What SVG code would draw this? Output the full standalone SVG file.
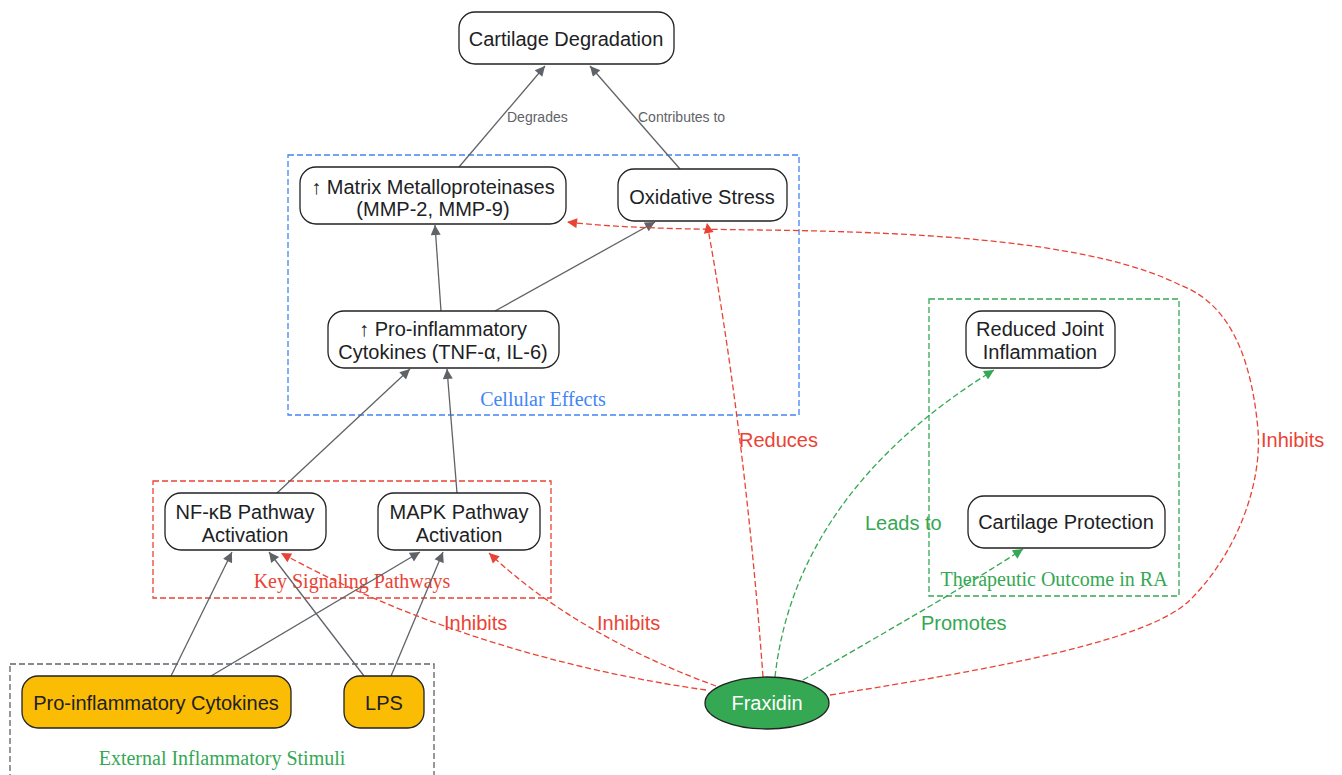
<svg xmlns="http://www.w3.org/2000/svg" width="1342" height="775" viewBox="0 0 1342 775">
<style>
.node rect{fill:#fff;stroke:#222;stroke-width:1.3}
.node text{font-family:"Liberation Sans",Arial,sans-serif;font-size:20px;fill:#202124;text-anchor:middle}
.stim rect{fill:#fbbc04;stroke:#222;stroke-width:1.3}
.clu{fill:none;stroke-width:1.3;stroke-dasharray:6,3}
.clabel{font-family:"Liberation Serif","Times New Roman",serif;font-size:20px;text-anchor:middle}
.e{fill:none;stroke:#5f6368;stroke-width:1.3}
.r{fill:none;stroke:#ea4335;stroke-width:1.3;stroke-dasharray:6,3}
.g{fill:none;stroke:#34a853;stroke-width:1.3;stroke-dasharray:6,3}
.lab{font-family:"Liberation Sans",Arial,sans-serif;font-size:20px}
.glab{font-family:"Liberation Sans",Arial,sans-serif;font-size:14px;fill:#5f6368}
</style>
<defs>
<marker id="ag" viewBox="0 0 10 10" refX="10" refY="5" markerUnits="userSpaceOnUse" markerWidth="13" markerHeight="10" orient="auto"><path d="M0,0 L10,5 L0,10 z" fill="#5f6368"/></marker>
<marker id="ar" viewBox="0 0 10 10" refX="10" refY="5" markerUnits="userSpaceOnUse" markerWidth="13" markerHeight="10" orient="auto"><path d="M0,0 L10,5 L0,10 z" fill="#ea4335"/></marker>
<marker id="agr" viewBox="0 0 10 10" refX="10" refY="5" markerUnits="userSpaceOnUse" markerWidth="13" markerHeight="10" orient="auto"><path d="M0,0 L10,5 L0,10 z" fill="#34a853"/></marker>
</defs>
<rect width="1342" height="775" fill="#fff"/>
<g id="clusters">
<g id="cluster-cellular"><rect class="clu" x="288" y="155" width="511" height="260" stroke="#4285f4"/><text class="clabel" x="543" y="406" fill="#4285f4">Cellular Effects</text></g>
<g id="cluster-signaling"><rect class="clu" x="153" y="481" width="398" height="117" stroke="#ea4335"/><text class="clabel" x="352" y="588" fill="#ea4335">Key Signaling Pathways</text></g>
<g id="cluster-stimuli"><rect class="clu" x="10" y="664" width="424" height="120" stroke="#5f6368"/><text class="clabel" x="222" y="765" fill="#34a853">External Inflammatory Stimuli</text></g>
<g id="cluster-outcome"><rect class="clu" x="929" y="299" width="250" height="297" stroke="#34a853"/><text class="clabel" x="1054" y="586" fill="#34a853">Therapeutic Outcome in RA</text></g>
</g>
<g id="connectors">
<path class="e" d="M459,167 L545,66" marker-end="url(#ag)"/>
<path class="e" d="M680,169 L590,66" marker-end="url(#ag)"/>
<path class="e" d="M441,311 L435,225" marker-end="url(#ag)"/>
<path class="e" d="M495,311 L655,222" marker-end="url(#ag)"/>
<path class="e" d="M277,493 L410,369" marker-end="url(#ag)"/>
<path class="e" d="M457,493 L447,369" marker-end="url(#ag)"/>
<path class="e" d="M171,676 L232,552" marker-end="url(#ag)"/>
<path class="e" d="M211,676 L420,552" marker-end="url(#ag)"/>
<path class="e" d="M364,676 L269,552" marker-end="url(#ag)"/>
<path class="e" d="M391,676 L443,552" marker-end="url(#ag)"/>
<path class="r" d="M706,690 C600,675 440,640 281,553" marker-end="url(#ar)"/>
<path class="r" d="M716,686 C650,662 560,620 489,553" marker-end="url(#ar)"/>
<path class="r" d="M763,677 C750,500 730,350 707,223" marker-end="url(#ar)"/>
<path class="r" d="M830,695 C1000,668 1150,640 1190,600 C1240,550 1262,480 1258,430 C1250,340 1220,300 1180,285 C1100,245 950,232 760,230 C680,229 620,228 567,222" marker-end="url(#ar)"/>
<path class="g" d="M775,677 C790,540 880,440 994,370" marker-end="url(#agr)"/>
<path class="g" d="M803,680 C880,635 960,590 1023,549" marker-end="url(#agr)"/>
<text class="glab" x="507" y="122">Degrades</text>
<text class="glab" x="638" y="122">Contributes to</text>
<text class="lab" x="739" y="447" fill="#ea4335">Reduces</text>
<text class="lab" x="444" y="630" fill="#ea4335">Inhibits</text>
<text class="lab" x="597" y="630" fill="#ea4335">Inhibits</text>
<text class="lab" x="1261" y="447" fill="#ea4335">Inhibits</text>
<text class="lab" x="865" y="530" fill="#34a853">Leads to</text>
<text class="lab" x="921" y="630" fill="#34a853">Promotes</text>
</g>
<g id="n-cartilage-degradation" class="node"><rect x="459" y="12" width="215" height="52" rx="16"/><text x="566" y="46">Cartilage Degradation</text></g>
<g id="n-mmp" class="node"><rect x="300" y="167" width="266" height="57" rx="16"/><text x="433" y="194">↑ Matrix Metalloproteinases</text><text x="433" y="216">(MMP-2, MMP-9)</text></g>
<g id="n-oxidative" class="node"><rect x="618" y="169" width="169" height="52" rx="16"/><text x="702" y="204">Oxidative Stress</text></g>
<g id="n-tnf" class="node"><rect x="328" y="311" width="231" height="57" rx="16"/><text x="443" y="336">↑ Pro-inflammatory</text><text x="443" y="359">Cytokines (TNF-α, IL-6)</text></g>
<g id="n-nfkb" class="node"><rect x="165" y="493" width="161" height="57" rx="16"/><text x="245" y="519">NF-κB Pathway</text><text x="245" y="542">Activation</text></g>
<g id="n-mapk" class="node"><rect x="378" y="493" width="162" height="57" rx="16"/><text x="459" y="519">MAPK Pathway</text><text x="459" y="542">Activation</text></g>
<g id="n-cytokines" class="node stim"><rect x="22" y="676" width="269" height="52" rx="16"/><text x="156" y="710">Pro-inflammatory Cytokines</text></g>
<g id="n-lps" class="node stim"><rect x="344" y="676" width="80" height="52" rx="16"/><text x="384" y="710">LPS</text></g>
<g id="n-reduced" class="node"><rect x="966" y="311" width="149" height="57" rx="16"/><text x="1040" y="336">Reduced Joint</text><text x="1040" y="359">Inflammation</text></g>
<g id="n-protection" class="node"><rect x="968" y="496" width="197" height="52" rx="16"/><text x="1066" y="529">Cartilage Protection</text></g>
<g id="n-fraxidin" class="node"><ellipse cx="767" cy="703" rx="62" ry="26" fill="#34a853" stroke="#222" stroke-width="1.3"/><text x="767" y="710" style="fill:#fff">Fraxidin</text></g>
</svg>
